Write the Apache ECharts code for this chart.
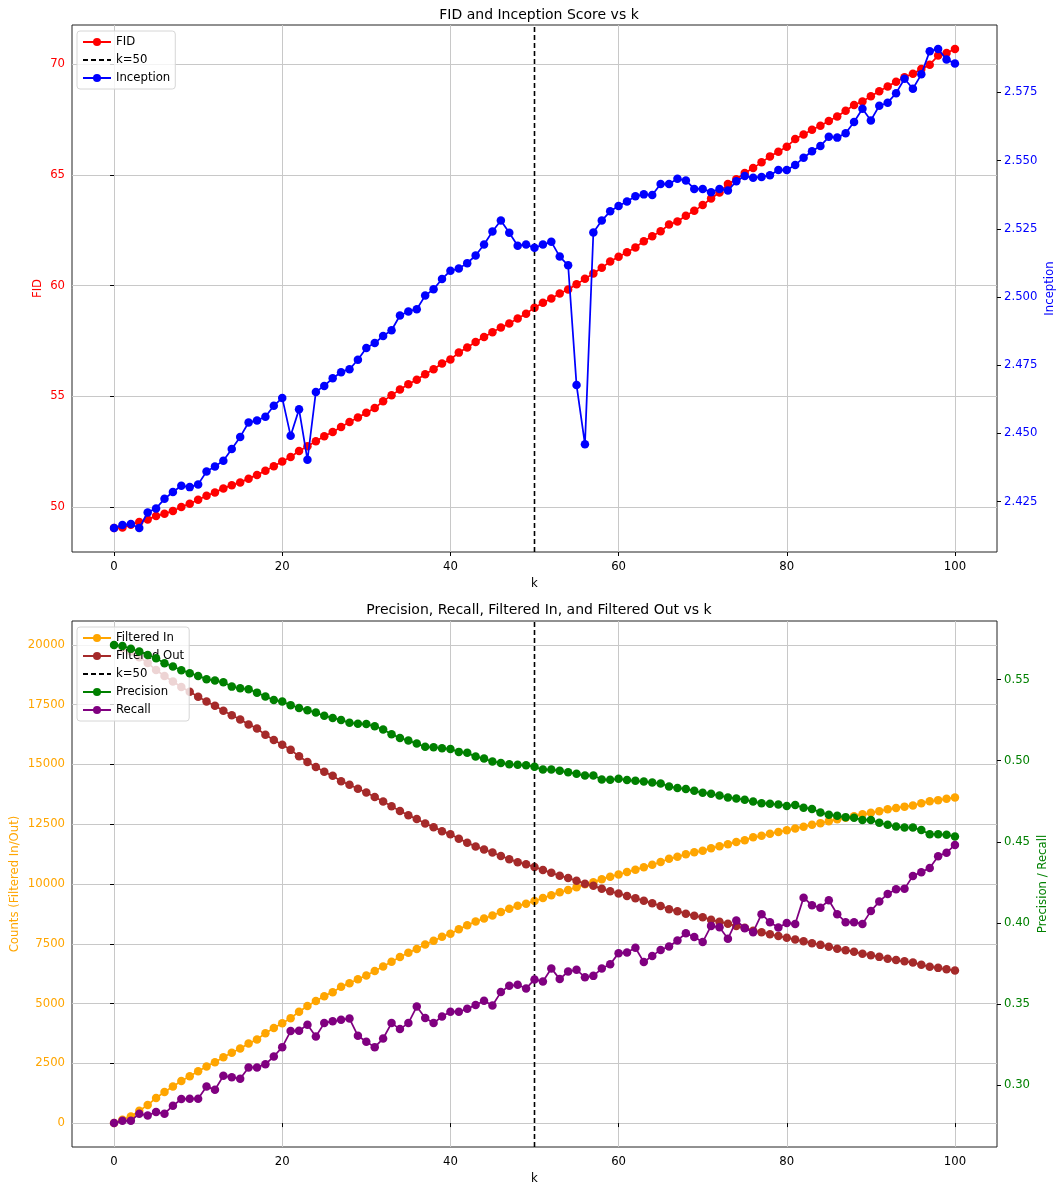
<!DOCTYPE html>
<html>
<head>
<meta charset="utf-8">
<title>FID / Inception and Precision / Recall vs k</title>
<script src="https://cdn.jsdelivr.net/npm/echarts@6/dist/echarts.min.js"></script>
<style>
  html, body { margin: 0; padding: 0; background: #fff; }
  #chart { width: 1057px; height: 1183px; }
</style>
</head>
<body>
<div id="chart"></div>
<script>
// k values on the x axis
const kValues = [
  0, 1, 2, 3, 4, 5, 6, 7, 8, 9,
  10, 11, 12, 13, 14, 15, 16, 17, 18, 19,
  20, 21, 22, 23, 24, 25, 26, 27, 28, 29,
  30, 31, 32, 33, 34, 35, 36, 37, 38, 39,
  40, 41, 42, 43, 44, 45, 46, 47, 48, 49,
  50, 51, 52, 53, 54, 55, 56, 57, 58, 59,
  60, 61, 62, 63, 64, 65, 66, 67, 68, 69,
  70, 71, 72, 73, 74, 75, 76, 77, 78, 79,
  80, 81, 82, 83, 84, 85, 86, 87, 88, 89,
  90, 91, 92, 93, 94, 95, 96, 97, 98, 99,
  100
];

const fid = [
  49.05, 49.08, 49.20, 49.32, 49.44, 49.59, 49.70, 49.82, 50.00, 50.15,
  50.33, 50.51, 50.66, 50.84, 50.98, 51.11, 51.28, 51.45, 51.64, 51.84,
  52.05, 52.26, 52.53, 52.74, 52.97, 53.19, 53.39, 53.61, 53.84, 54.04,
  54.25, 54.47, 54.77, 55.05, 55.30, 55.54, 55.75, 55.99, 56.22, 56.48,
  56.66, 56.97, 57.20, 57.45, 57.68, 57.89, 58.10, 58.28, 58.51, 58.73,
  59.00, 59.22, 59.41, 59.64, 59.82, 60.06, 60.30, 60.54, 60.80, 61.08,
  61.30, 61.50, 61.72, 62.00, 62.22, 62.45, 62.75, 62.89, 63.15, 63.37,
  63.63, 63.93, 64.20, 64.58, 64.80, 65.08, 65.30, 65.56, 65.83, 66.04,
  66.27, 66.61, 66.82, 67.03, 67.21, 67.43, 67.63, 67.89, 68.15, 68.31,
  68.54, 68.77, 68.99, 69.20, 69.40, 69.56, 69.77, 69.97, 70.38, 70.50,
  70.68
];

const inception = [
  2.4153, 2.4164, 2.4168, 2.4153, 2.4210, 2.4225, 2.4260, 2.4285, 2.4308, 2.4303,
  2.4313, 2.4360, 2.4379, 2.4400, 2.4443, 2.4487, 2.4540, 2.4547, 2.4561, 2.4601,
  2.4630, 2.4491, 2.4588, 2.4403, 2.4652, 2.4674, 2.4702, 2.4724, 2.4735, 2.4770,
  2.4813, 2.4831, 2.4857, 2.4878, 2.4932, 2.4947, 2.4955, 2.5005, 2.5028, 2.5066,
  2.5096, 2.5104, 2.5124, 2.5152, 2.5192, 2.5240, 2.5280, 2.5235, 2.5188, 2.5192,
  2.5180, 2.5192, 2.5202, 2.5148, 2.5116, 2.4677, 2.4460, 2.5236, 2.5280, 2.5314,
  2.5333, 2.5350, 2.5369, 2.5376, 2.5374, 2.5414, 2.5414, 2.5433, 2.5427, 2.5396,
  2.5396, 2.5384, 2.5396, 2.5390, 2.5424, 2.5443, 2.5437, 2.5440, 2.5446, 2.5465,
  2.5465, 2.5484, 2.5510, 2.5534, 2.5553, 2.5587, 2.5584, 2.5600, 2.5641, 2.5690,
  2.5647, 2.5701, 2.5712, 2.5747, 2.5800, 2.5763, 2.5816, 2.5901, 2.5909, 2.5870,
  2.5856
];

const filteredIn = [
  0, 139, 279, 515, 752, 1052, 1303, 1526, 1756, 1958,
  2167, 2369, 2543, 2752, 2940, 3122, 3324, 3498, 3762, 3978,
  4180, 4390, 4654, 4898, 5107, 5309, 5476, 5699, 5852, 6013,
  6173, 6362, 6550, 6744, 6946, 7128, 7281, 7469, 7622, 7790,
  7922, 8103, 8270, 8431, 8556, 8682, 8828, 8967, 9086, 9176,
  9290, 9410, 9533, 9651, 9749, 9860, 9986, 10070, 10202, 10307,
  10398, 10502, 10593, 10704, 10802, 10921, 11053, 11137, 11242, 11325,
  11395, 11493, 11583, 11660, 11758, 11834, 11953, 12016, 12106, 12176,
  12246, 12322, 12399, 12483, 12546, 12622, 12706, 12769, 12838, 12915,
  12978, 13048, 13125, 13180, 13236, 13285, 13376, 13466, 13508, 13564,
  13620
];

const filteredOut = [
  20000, 19861, 19721, 19485, 19248, 18948, 18697, 18474, 18244, 18042,
  17833, 17631, 17457, 17248, 17060, 16878, 16676, 16502, 16238, 16022,
  15820, 15610, 15346, 15102, 14893, 14691, 14524, 14301, 14148, 13987,
  13827, 13638, 13450, 13256, 13054, 12872, 12719, 12531, 12378, 12210,
  12078, 11897, 11730, 11569, 11444, 11318, 11172, 11033, 10914, 10824,
  10710, 10590, 10467, 10349, 10251, 10140, 10014, 9930, 9798, 9693,
  9602, 9498, 9407, 9296, 9198, 9079, 8947, 8863, 8758, 8675,
  8605, 8507, 8417, 8340, 8242, 8166, 8047, 7984, 7894, 7824,
  7754, 7678, 7601, 7517, 7454, 7378, 7294, 7231, 7162, 7085,
  7022, 6952, 6875, 6820, 6764, 6715, 6624, 6534, 6492, 6436,
  6380
];

const precision = [
  0.5713, 0.5707, 0.5689, 0.5672, 0.5651, 0.5631, 0.5600, 0.5580, 0.5557, 0.5539,
  0.5522, 0.5502, 0.5493, 0.5483, 0.5456, 0.5446, 0.5440, 0.5419, 0.5395, 0.5374,
  0.5364, 0.5342, 0.5325, 0.5311, 0.5296, 0.5276, 0.5263, 0.5251, 0.5233, 0.5227,
  0.5225, 0.5212, 0.5192, 0.5163, 0.5140, 0.5124, 0.5105, 0.5085, 0.5083, 0.5077,
  0.5071, 0.5054, 0.5048, 0.5025, 0.5013, 0.4994, 0.4986, 0.4978, 0.4974, 0.4972,
  0.4962, 0.4945, 0.4945, 0.4937, 0.4929, 0.4919, 0.4908, 0.4908, 0.4884, 0.4882,
  0.4888, 0.4880, 0.4876, 0.4871, 0.4865, 0.4859, 0.4841, 0.4831, 0.4826, 0.4814,
  0.4802, 0.4796, 0.4785, 0.4773, 0.4767, 0.4759, 0.4748, 0.4738, 0.4734, 0.4730,
  0.4721, 0.4727, 0.4710, 0.4702, 0.4681, 0.4666, 0.4660, 0.4652, 0.4648, 0.4635,
  0.4635, 0.4617, 0.4605, 0.4594, 0.4588, 0.4588, 0.4572, 0.4547, 0.4547, 0.4543,
  0.4533
];

const recall = [
  0.2767, 0.2781, 0.2781, 0.2825, 0.2814, 0.2835, 0.2825, 0.2874, 0.2915, 0.2917,
  0.2917, 0.2993, 0.2972, 0.3058, 0.3050, 0.3040, 0.3110, 0.3110, 0.3130, 0.3177,
  0.3235, 0.3334, 0.3336, 0.3373, 0.3301, 0.3383, 0.3395, 0.3403, 0.3411, 0.3305,
  0.3268, 0.3235, 0.3288, 0.3383, 0.3346, 0.3383, 0.3485, 0.3414, 0.3383, 0.3424,
  0.3453, 0.3453, 0.3471, 0.3494, 0.3520, 0.3491, 0.3574, 0.3613, 0.3619, 0.3596,
  0.3652, 0.3639, 0.3720, 0.3654, 0.3701, 0.3711, 0.3666, 0.3674, 0.3719, 0.3746,
  0.3814, 0.3818, 0.3847, 0.3759, 0.3797, 0.3834, 0.3855, 0.3892, 0.3937, 0.3913,
  0.3882, 0.3982, 0.3974, 0.3902, 0.4015, 0.3968, 0.3943, 0.4054, 0.4005, 0.3972,
  0.3999, 0.3994, 0.4156, 0.4109, 0.4093, 0.4140, 0.4054, 0.4005, 0.4005, 0.3994,
  0.4073, 0.4132, 0.4179, 0.4208, 0.4210, 0.4290, 0.4313, 0.4339, 0.4411, 0.4433,
  0.4481
];

// reference line position
const kMark = 50;

// tick positions
const kTicks = [0, 20, 40, 60, 80, 100];
const fidTicks = [50, 55, 60, 65, 70];
const inceptionTicks = [2.425, 2.45, 2.475, 2.5, 2.525, 2.55, 2.575];
const countTicks = [0, 2500, 5000, 7500, 10000, 12500, 15000, 17500, 20000];
const prTicks = [0.30, 0.35, 0.40, 0.45, 0.50, 0.55];

// titles
const topTitle = 'FID and Inception Score vs k';
const bottomTitle = 'Precision, Recall, Filtered In, and Filtered Out vs k';

const FONT = 'DejaVu Sans';
const TICK_SIZE = 11.7;

// data range with 5% padding on each side
function paddedRange(...arrays) {
  let lo = Infinity, hi = -Infinity;
  arrays.forEach(a => a.forEach(v => { lo = Math.min(lo, v); hi = Math.max(hi, v); }));
  const pad = (hi - lo) * 0.05;
  return [lo - pad, hi + pad];
}

const kRange = paddedRange(kValues);
const fidRange = paddedRange(fid);
const incRange = paddedRange(inception);
const countRange = paddedRange(filteredIn, filteredOut);
const prRange = paddedRange(precision, recall);

const pairs = (ys) => kValues.map((x, i) => [x, ys[i]]);

function xAxisCfg(gridIndex) {
  return {
    type: 'value', gridIndex,
    min: kRange[0], max: kRange[1],
    name: 'k', nameLocation: 'middle', nameGap: 26, nameMoveOverlap: false,
    nameTextStyle: { color: '#000', fontFamily: FONT, fontSize: TICK_SIZE },
    axisLine: { show: false },
    axisTick: { show: true, length: 4, lineStyle: { color: '#000', width: 1 }, customValues: kTicks },
    axisLabel: { color: '#000', fontFamily: FONT, fontSize: TICK_SIZE, margin: 9, customValues: kTicks },
    splitLine: { show: true, lineStyle: { color: '#c8c8c8', width: 1 } }
  };
}

function yAxisCfg(gridIndex, position, range, ticks, color, name, nameGap, digits, grid) {
  return {
    type: 'value', gridIndex, position,
    min: range[0], max: range[1],
    name, nameLocation: 'middle', nameGap, nameMoveOverlap: false,
    nameTextStyle: { color, fontFamily: FONT, fontSize: TICK_SIZE },
    axisLine: { show: false },
    axisTick: { show: true, length: 4, lineStyle: { color: '#000', width: 1 }, customValues: ticks },
    axisLabel: {
      color, fontFamily: FONT, fontSize: TICK_SIZE, margin: 7, customValues: ticks,
      formatter: v => digits == null ? String(Math.round(v)) : v.toFixed(digits)
    },
    splitLine: { show: grid, lineStyle: { color: '#c8c8c8', width: 1 } }
  };
}

function lineSeries(name, ys, color, xAxisIndex, yAxisIndex, z) {
  return {
    name, type: 'line', xAxisIndex, yAxisIndex, z,
    data: pairs(ys),
    symbol: 'circle', symbolSize: 8.5,
    lineStyle: { color, width: 1.75 },
    itemStyle: { color },
    emphasis: { disabled: true }
  };
}

function markSeries(xAxisIndex, yAxisIndex, yRange, z) {
  return {
    name: 'k=50', type: 'line', xAxisIndex, yAxisIndex, z,
    data: [[kMark, yRange[0]], [kMark, yRange[1]]],
    symbol: 'none',
    lineStyle: { color: '#000', width: 1.6, type: [5, 3] },
    itemStyle: { color: '#000' },
    emphasis: { disabled: true }
  };
}

// legend entries; the dashed k=50 entry shows only its line
function legendItems(names) {
  return names.map(n => n === 'k=50' ? { name: n, itemStyle: { opacity: 0 } } : { name: n });
}

function legendCfg(names, top) {
  return {
    data: legendItems(names), orient: 'vertical', left: 77, top,
    itemWidth: 28, itemHeight: 10, itemGap: 4,
    padding: [4, 5, 4, 5],
    backgroundColor: 'rgba(255,255,255,0.8)',
    borderColor: '#d6d6d6', borderWidth: 1, borderRadius: 3,
    textStyle: { color: '#000', fontFamily: FONT, fontSize: TICK_SIZE, lineHeight: 14 },
    selectedMode: false
  };
}

const chart = echarts.init(document.getElementById('chart'), null, { renderer: 'canvas' });

chart.setOption({
  animation: false,
  backgroundColor: '#fff',
  textStyle: { fontFamily: FONT },
  title: [
    { text: topTitle, left: 534, top: 3, textAlign: 'center',
      textStyle: { color: '#000', fontFamily: FONT, fontSize: 14, fontWeight: 'normal' } },
    { text: bottomTitle, left: 534, top: 598, textAlign: 'center',
      textStyle: { color: '#000', fontFamily: FONT, fontSize: 14, fontWeight: 'normal' } }
  ],
  grid: [
    { left: 72, top: 25, width: 925, height: 527, containLabel: false, outerBoundsMode: 'none',
      show: true, borderColor: '#222', borderWidth: 1 },
    { left: 72, top: 621, width: 925, height: 526, containLabel: false, outerBoundsMode: 'none',
      show: true, borderColor: '#222', borderWidth: 1 }
  ],
  legend: [
    legendCfg(['FID', 'k=50', 'Inception'], 31),
    legendCfg(['Filtered In', 'Filtered Out', 'k=50', 'Precision', 'Recall'], 627)
  ],
  xAxis: [xAxisCfg(0), xAxisCfg(1)],
  yAxis: [
    yAxisCfg(0, 'left', fidRange, fidTicks, 'red', 'FID', 28, null, true),
    yAxisCfg(0, 'right', incRange, inceptionTicks, 'blue', 'Inception', 47, 3, false),
    yAxisCfg(1, 'left', countRange, countTicks, 'orange', 'Counts (Filtered In/Out)', 51, null, true),
    yAxisCfg(1, 'right', prRange, prTicks, 'green', 'Precision / Recall', 40, 2, false)
  ],
  series: [
    lineSeries('FID', fid, 'red', 0, 0, 2),
    markSeries(0, 0, fidRange, 3),
    lineSeries('Inception', inception, 'blue', 0, 1, 4),
    lineSeries('Filtered In', filteredIn, 'orange', 1, 2, 2),
    lineSeries('Filtered Out', filteredOut, 'brown', 1, 2, 2),
    markSeries(1, 2, countRange, 3),
    lineSeries('Precision', precision, 'green', 1, 3, 6),
    lineSeries('Recall', recall, 'purple', 1, 3, 6)
  ]
});
</script>
</body>
</html>
